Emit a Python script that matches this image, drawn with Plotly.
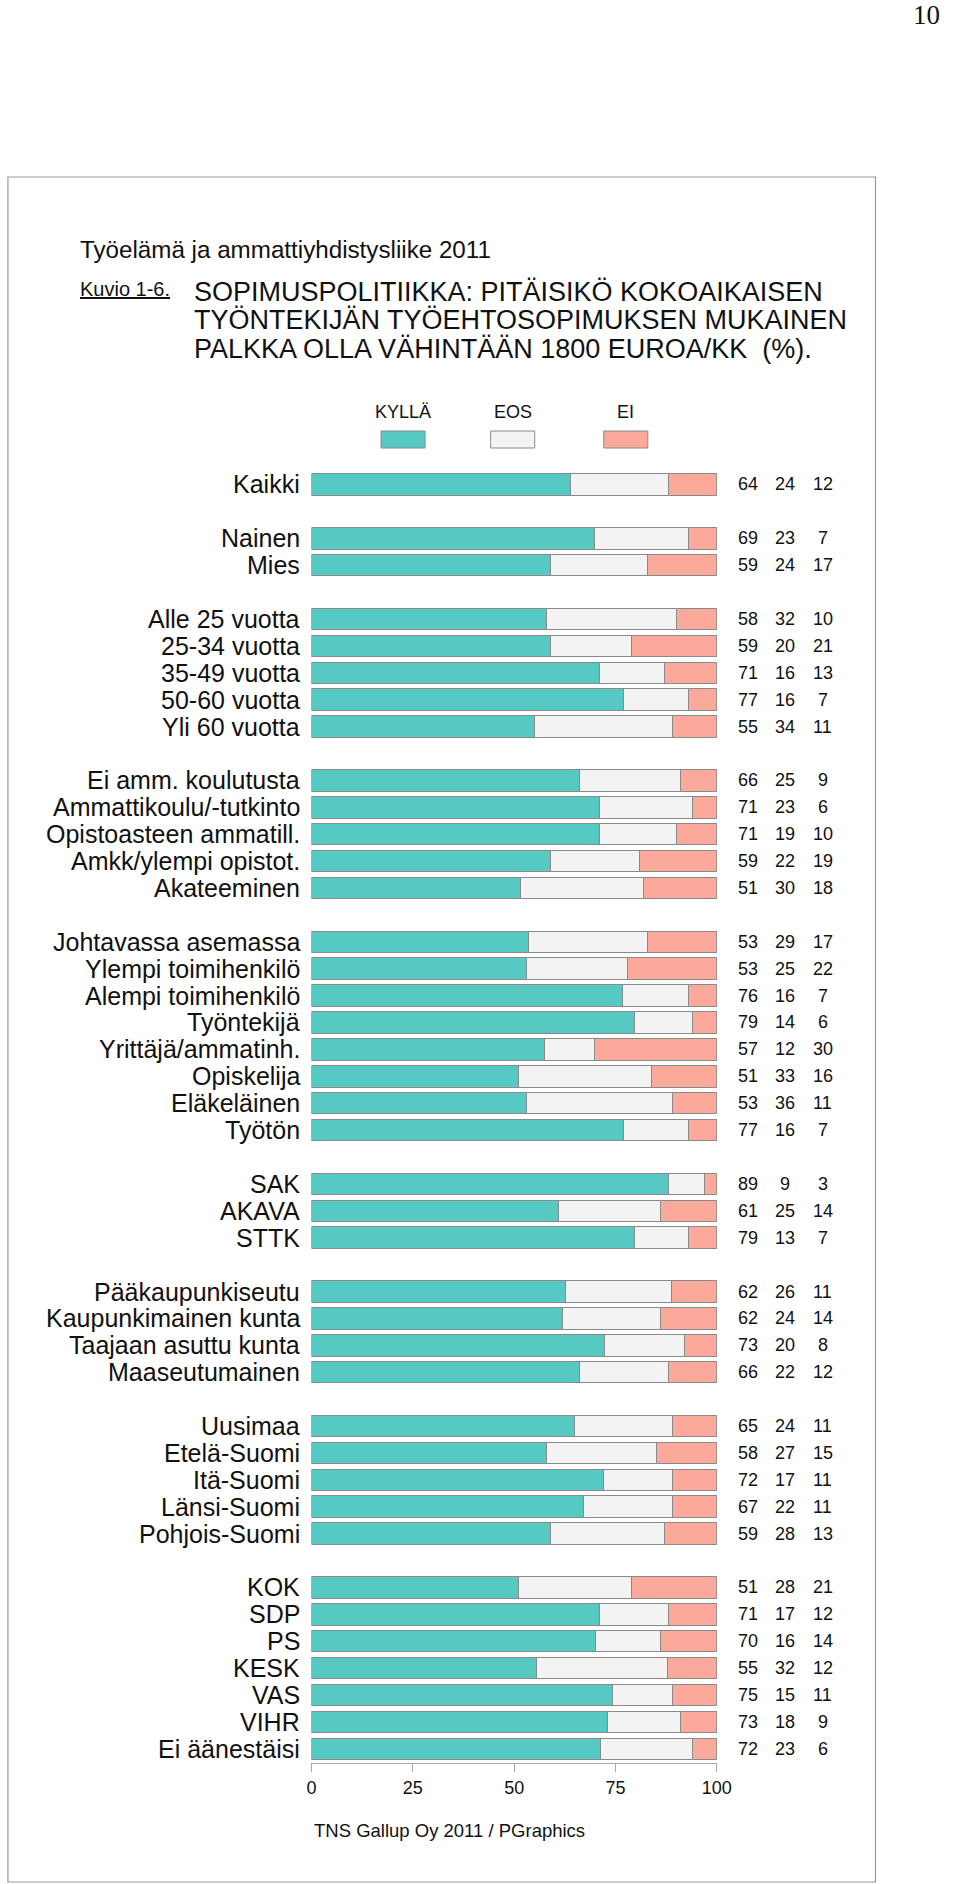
import plotly.graph_objects as go

# ---------------- data ----------------
categories = [
    "Kaikki",
    "Nainen", "Mies",
    "Alle 25 vuotta", "25-34 vuotta", "35-49 vuotta", "50-60 vuotta", "Yli 60 vuotta",
    "Ei amm. koulutusta", "Ammattikoulu/-tutkinto", "Opistoasteen ammatill.",
    "Amkk/ylempi opistot.", "Akateeminen",
    "Johtavassa asemassa", "Ylempi toimihenkilö", "Alempi toimihenkilö", "Työntekijä",
    "Yrittäjä/ammatinh.", "Opiskelija", "Eläkeläinen", "Työtön",
    "SAK", "AKAVA", "STTK",
    "Pääkaupunkiseutu", "Kaupunkimainen kunta", "Taajaan asuttu kunta", "Maaseutumainen",
    "Uusimaa", "Etelä-Suomi", "Itä-Suomi", "Länsi-Suomi", "Pohjois-Suomi",
    "KOK", "SDP", "PS", "KESK", "VAS", "VIHR", "Ei äänestäisi",
]
group_sizes = [1, 2, 5, 5, 8, 3, 4, 5, 7]

kylla = [64, 69, 59, 58, 59, 71, 77, 55, 66, 71, 71, 59, 51, 53, 53, 76, 79, 57, 51, 53, 77,
         89, 61, 79, 62, 62, 73, 66, 65, 58, 72, 67, 59, 51, 71, 70, 55, 75, 73, 72]
eos = [24, 23, 24, 32, 20, 16, 16, 34, 25, 23, 19, 22, 30, 29, 25, 16, 14, 12, 33, 36, 16,
       9, 25, 13, 26, 24, 20, 22, 24, 27, 17, 22, 28, 28, 17, 16, 32, 15, 18, 23]
ei = [12, 7, 17, 10, 21, 13, 7, 11, 9, 6, 10, 19, 18, 17, 22, 7, 6, 30, 16, 11, 7,
      3, 14, 7, 11, 14, 8, 12, 11, 15, 11, 11, 13, 21, 12, 14, 12, 11, 9, 6]

series_names = ["KYLLÄ", "EOS", "EI"]
series_colors = ["#56C9C3", "#F3F3F3", "#FAA99A"]
x_ticks = [0, 25, 50, 75, 100]

title_top = "Työelämä ja ammattiyhdistysliike 2011"
kuvio = "Kuvio 1-6."
title_lines = ["SOPIMUSPOLITIIKKA: PITÄISIKÖ KOKOAIKAISEN",
               "TYÖNTEKIJÄN TYÖEHTOSOPIMUKSEN MUKAINEN",
               "PALKKA OLLA VÄHINTÄÄN 1800 EUROA/KK  (%)."]
source = "TNS Gallup Oy 2011 / PGraphics"
page_no = "10"

# ---------------- layout helpers ----------------
W, H = 960, 1884
FONT = "Liberation Sans, Arial, Helvetica, sans-serif"

def px_x(x):
    return x / W

def px_y(y):
    return 1 - y / H

# slot positions (an empty slot between groups)
slots = []
s = 0
for n in group_sizes:
    for _ in range(n):
        slots.append(s)
        s += 1
    s += 1

totals = [a + b + c for a, b, c in zip(kylla, eos, ei)]
norm = [[v / t * 100 for v, t in zip(ser, totals)] for ser in (kylla, eos, ei)]

fig = go.Figure()
for name, vals, col in zip(series_names, norm, series_colors):
    fig.add_trace(go.Bar(
        y=slots, x=vals, orientation="h", name=name,
        marker=dict(color=col, line=dict(color="#8A8A8A", width=1)),
        hoverinfo="skip", showlegend=False,
    ))

# pixel geometry
x0_px, x100_px = 313, 727
first_c, pitch = 484.5, 26.9
top_px = first_c - 0.5 * pitch
bot_px = 1763
bot_val = (bot_px - first_c) / pitch

annotations = []
shapes = []

# category labels
for cat, sl in zip(categories, slots):
    annotations.append(dict(x=px_x(303), xref="paper", y=sl, yref="y", text=cat,
                            xanchor="right", yanchor="middle", showarrow=False,
                            font=dict(family=FONT, size=25, color="#111")))
# value columns
col_x = [759, 797, 835]
for ser, cx in zip((kylla, eos, ei), col_x):
    for v, sl in zip(ser, slots):
        annotations.append(dict(x=px_x(cx), xref="paper", y=sl, yref="y", text=str(v),
                                xanchor="center", yanchor="middle", showarrow=False,
                                font=dict(family=FONT, size=18, color="#111")))

# legend (label above swatch)
leg_cx = [406.5, 518.5, 634]
for name, col, cx in zip(series_names, series_colors, leg_cx):
    annotations.append(dict(x=px_x(cx), xref="paper", y=px_y(412), yref="paper", text=name,
                            xanchor="center", yanchor="middle", showarrow=False,
                            font=dict(family=FONT, size=18, color="#111")))
    shapes.append(dict(type="rect", xref="paper", yref="paper",
                       x0=px_x(cx - 22.5), x1=px_x(cx + 22.5), y0=px_y(448), y1=px_y(431),
                       fillcolor=col, line=dict(color="#8A8A8A", width=1)))

# titles
annotations.append(dict(x=px_x(75), xref="paper", y=px_y(249), yref="paper", text=title_top,
                        xanchor="left", yanchor="middle", showarrow=False,
                        font=dict(family=FONT, size=24.2, color="#111")))
annotations.append(dict(x=px_x(75), xref="paper", y=px_y(289), yref="paper",
                        text="<u>" + kuvio + "</u>",
                        xanchor="left", yanchor="middle", showarrow=False,
                        font=dict(family=FONT, size=20, color="#111")))
for i, line in enumerate(title_lines):
    annotations.append(dict(x=px_x(191), xref="paper", y=px_y(292 + 28.5 * i), yref="paper",
                            text=line, xanchor="left", yanchor="middle", showarrow=False,
                            font=dict(family=FONT, size=27, color="#111")))
# source
annotations.append(dict(x=px_x(314), xref="paper", y=px_y(1830), yref="paper", text=source,
                        xanchor="left", yanchor="middle", showarrow=False,
                        font=dict(family=FONT, size=18.5, color="#111")))
# page number
annotations.append(dict(x=px_x(957), xref="paper", y=px_y(15), yref="paper", text=page_no,
                        xanchor="right", yanchor="middle", showarrow=False,
                        font=dict(family="Liberation Serif, Times New Roman, serif", size=27,
                                  color="#111")))

# outer frame
shapes.append(dict(type="rect", xref="paper", yref="paper",
                   x0=px_x(3), x1=px_x(889), y0=px_y(1882), y1=px_y(177),
                   line=dict(color="#9A9A9A", width=1.2), fillcolor="rgba(0,0,0,0)",
                   layer="below"))

fig.update_layout(
    width=W, height=H,
    margin=dict(l=0, r=0, t=0, b=0),
    paper_bgcolor="white", plot_bgcolor="white",
    barmode="stack", bargap=0.2,
    showlegend=False,
    font=dict(family=FONT, color="#111"),
    xaxis=dict(domain=[px_x(x0_px), px_x(x100_px)], range=[0, 100],
               tickvals=x_ticks, ticktext=[str(t) for t in x_ticks],
               showgrid=False, zeroline=False, showline=True, linecolor="#A8A8A8",
               linewidth=1, ticks="outside", ticklen=8, tickcolor="#A8A8A8", tickwidth=1,
               tickfont=dict(family=FONT, size=18, color="#111"), fixedrange=True),
    yaxis=dict(domain=[px_y(bot_px), px_y(top_px)], range=[bot_val, -0.5],
               showticklabels=False, ticks="", showgrid=False, zeroline=False,
               showline=False, fixedrange=True),
    annotations=annotations, shapes=shapes,
)

fig.write_html("out.html",
               config={"displayModeBar": False, "staticPlot": True},
               post_script="document.body.style.margin='0';document.body.style.padding='0';")
